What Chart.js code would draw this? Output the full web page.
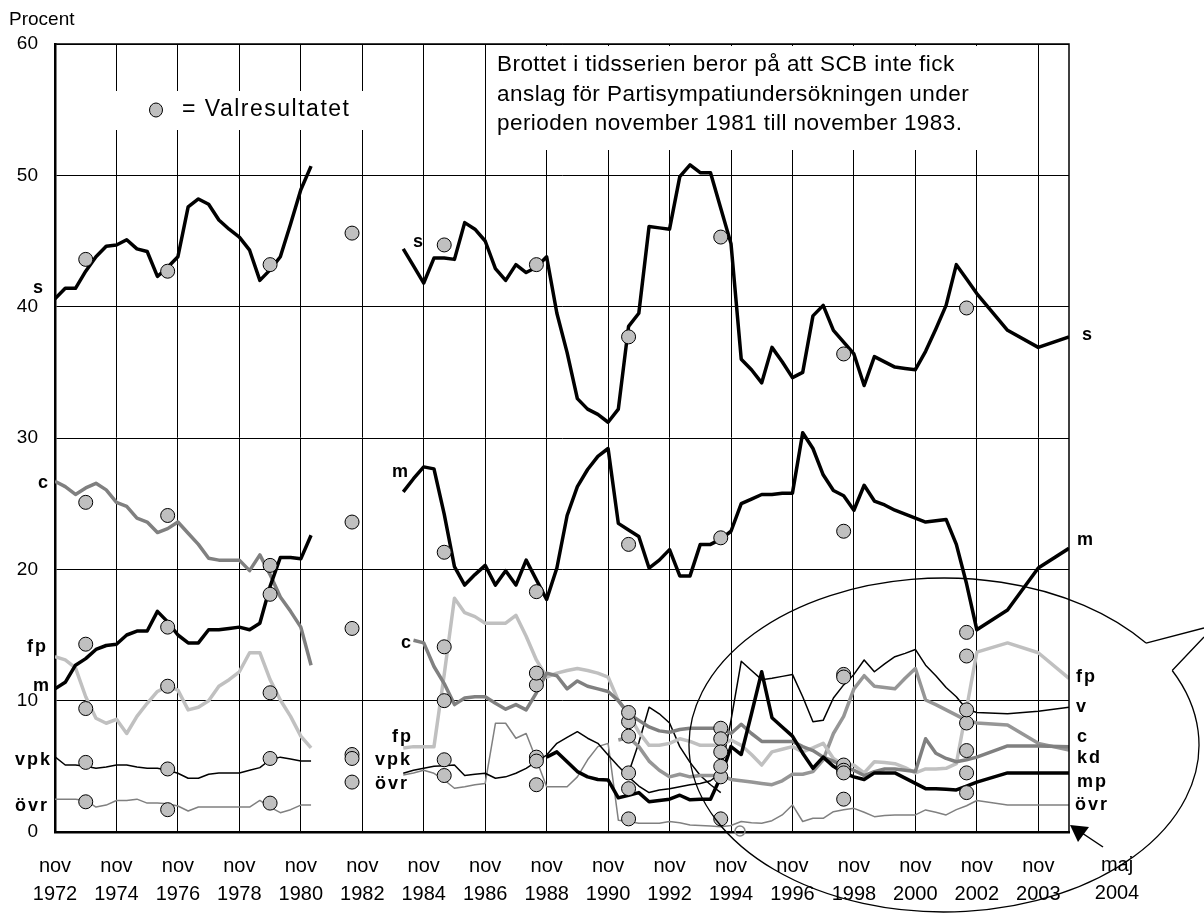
<!DOCTYPE html>
<html>
<head>
<meta charset="utf-8">
<script src="https://cdn.jsdelivr.net/npm/chart.js@4/dist/chart.umd.min.js"></script>
<style>
  body { margin: 0; background: #fff; }
  #wrap { position: relative; width: 1204px; height: 913px; }
</style>
</head>
<body>
<div id="wrap"><canvas id="chart" width="1204" height="913"></canvas></div>
<script>
// Partisympatier (SCB PSU), procent. One survey every 4 months up to nov 2002,
// then the axis stretches: one survey per grid step to maj 2004.
const surveyT = [];
for (let k = 0; k <= 90; k++) surveyT.push(k / 3);
surveyT.push(31, 32, 33);

// x tick labels (axis units = years from nov 1972 on the drawn scale)
const tickPos = [0, 2, 4, 6, 8, 10, 12, 14, 16, 18, 20, 22, 24, 26, 28, 30, 32];
const tickYears = ['1972', '1974', '1976', '1978', '1980', '1982', '1984', '1986', '1988',
  '1990', '1992', '1994', '1996', '1998', '2000', '2002', '2003'];

const N = null;
const gap = [N, N, N, N, N, N, N, N]; // nov 1981 - nov 1983, no survey

const sVals = [40.6, 41.4, 41.4, 42.7, 43.8, 44.6, 44.7, 45.1, 44.4, 44.2, 42.3, 43.0, 43.8, 47.6, 48.2, 47.8, 46.6, 45.9, 45.3, 44.3, 42.0, 42.8, 43.8, 46.3, 48.9, 50.7,
  ...gap,
  44.4, 43.1, 41.8, 43.7, 43.7, 43.6, 46.4, 45.9, 45.0, 42.9, 42.0, 43.2, 42.6, 43.0, 43.8, 39.5, 36.5, 33.0, 32.2, 31.8,
  31.2, 32.2, 38.5, 39.5, 46.1, 46.0, 45.9, 49.9, 50.8, 50.2, 50.2, 47.5, 44.8, 36.0, 35.2, 34.2, 36.9, 35.8, 34.6, 35.0,
  39.3, 40.1, 38.2, 37.3, 36.4, 34.0, 36.2, 35.8, 35.4, 35.3, 35.2, 36.6, 38.3, 40.1, 43.2, 42.1, 41.0, 38.2, 36.9, 37.7];

const mVals = [10.9, 11.4, 12.7, 13.2, 13.9, 14.2, 14.3, 15.0, 15.3, 15.3, 16.8, 16.0, 15.0, 14.4, 14.4, 15.4, 15.4, 15.5, 15.6, 15.4, 15.9, 18.7, 20.9, 20.9, 20.8, 22.6,
  ...gap,
  25.9, 26.9, 27.8, 27.65, 24.2, 20.2, 18.8, 19.6, 20.3, 18.8, 19.9, 18.8, 20.7, 19.2, 17.7, 20.1, 24.1, 26.3, 27.6, 28.6,
  29.2, 23.5, 23.0, 22.5, 20.1, 20.7, 21.5, 19.5, 19.5, 21.9, 21.9, 22.3, 22.9, 25.0, 25.35, 25.7, 25.7, 25.8, 25.8, 30.4,
  29.2, 27.2, 26.0, 25.6, 24.5, 26.4, 25.2, 24.9, 24.5, 24.2, 23.9, 23.6, 23.7, 23.8, 21.9, 18.9, 15.4, 16.9, 20.1, 21.6];

const cVals = [26.7, 26.3, 25.7, 26.2, 26.55, 26.05, 25.1, 24.8, 23.9, 23.6, 22.8, 23.1, 23.6, 22.75, 21.9, 20.85, 20.7, 20.7, 20.7, 19.9, 21.1, 19.6, 17.9, 16.8, 15.6, 12.7,
  ...gap,
  N, 14.6, 14.4, 12.6, 11.3, 9.7, 10.2, 10.3, 10.3, 9.8, 9.35, 9.7, 9.3, 10.6, 12.1, 11.9, 10.9, 11.5, 11.1, 10.9,
  10.7, 10.0, 9.0, 8.5, 8.0, 7.7, 7.6, 7.8, 7.9, 7.9, 7.9, 7.9, 7.5, 8.2, 7.5, 6.9, 6.9, 6.9, 6.9, 6.5,
  6.2, 5.7, 5.4, 5.0, 4.7, 4.3, 4.6, 4.8, 4.8, 4.7, 4.6, 7.1, 6.0, 5.6, 5.35, 5.5, 5.7, 6.55, 6.55, 6.5];

const fpVals = [13.35, 13.1, 12.5, 10.3, 8.66, 8.28, 8.58, 7.5, 8.8, 9.8, 10.7, 11.1, 10.8, 9.3, 9.5, 10.0, 11.1, 11.6, 12.2, 13.65, 13.65, 11.6, 10.05, 8.8, 7.3, 6.4,
  ...gap,
  6.4, 6.5, 6.5, 6.5, 12.0, 17.8, 16.7, 16.4, 15.9, 15.9, 15.9, 16.5, 14.9, 13.1, 11.8, 12.1, 12.3, 12.45, 12.3, 12.1,
  11.8, 10.0, 9.0, 7.6, 6.6, 6.6, 6.75, 7.1, 6.9, 6.6, 6.6, 6.6, 7.0, 6.6, 5.9, 5.1, 6.1, 6.3, 6.5, 6.1,
  6.4, 6.75, 5.6, 5.1, 5.1, 4.5, 5.35, 5.3, 5.2, 4.9, 4.5, 4.8, 4.8, 4.85, 5.2, 9.4, 13.7, 14.4, 13.65, 11.7];

const vVals = [5.73, 5.1, 5.1, 5.0, 4.85, 4.95, 5.1, 5.1, 4.95, 4.85, 4.85, 4.7, 4.47, 4.09, 4.09, 4.4, 4.5, 4.5, 4.5, 4.7, 4.9, 5.5, 5.7, 5.55, 5.4, 5.4,
  ...gap,
  4.47, 4.7, 4.85, 5.0, 5.05, 5.1, 4.3, 4.4, 4.47, 4.09, 4.2, 4.47, 4.85, 5.35, 5.86, 6.75, 7.2, 7.64, 7.14, 6.75,
  5.86, 5.0, 4.2, 3.5, 3.0, 3.2, 3.3, 3.45, 3.6, 3.7, 3.9, 4.5, 8.5, 13.0, 12.3, 11.6, 11.7, 11.85, 12.0, 10.3,
  8.4, 8.5, 10.2, 11.2, 12.0, 13.1, 12.2, 12.8, 13.35, 13.6, 13.9, 12.7, 11.9, 11.0, 10.3, 9.35, 9.1, 9.0, 9.2, 9.5];

const nydVals = [...Array(56).fill(N),
  4.5, 6.8, 9.5, 9.0, 8.3, 6.5, 5.3, 4.3, 3.6, 3.0,
  ...Array(28).fill(N)];

const kdVals = [...Array(55).fill(N),
  7.0, 7.2, 6.5, 5.4, 4.7, 4.2, 4.4, 4.2, 4.3, 4.3, 4.3, 4.0, 3.9, 3.8, 3.7,
  3.6, 3.9, 4.4, 4.4, 4.6, 5.5, 7.5, 8.8, 10.9, 11.9, 11.1, 11.0, 10.9, 11.7, 12.45,
  10.05, 9.7, 9.3, 8.9, 8.5, 8.3, 8.15, 6.75, 6.25];

const mpVals = [...Array(48).fill(N),
  5.7, 6.1, 5.35, 4.6, 4.2, 4.0, 3.96, 2.6, 2.8, 3.0, 2.3, 2.4, 2.5, 2.8, 2.45, 2.5,
  2.5, 4.2, 6.5, 5.9, 9.0, 12.2, 8.7, 8.0, 7.3, 6.0, 4.85, 5.7, 5.0, 4.5, 4.2, 4.0,
  4.5, 4.5, 4.5, 4.1, 3.7, 3.3, 3.3, 3.25, 3.2, 3.5, 3.8, 4.5, 4.5, 4.5];

const ovrVals = [2.5, 2.5, 2.5, 2.4, 1.9, 2.05, 2.4, 2.4, 2.5, 2.2, 2.2, 2.15, 1.98, 1.6, 1.9, 1.9, 1.9, 1.9, 1.9, 1.9, 2.4, 1.9, 1.47, 1.7, 2.05, 2.05,
  ...gap,
  4.34, 4.5, 4.7, 4.47, 3.96, 3.33, 3.45, 3.6, 3.7, 8.28, 8.28, 7.14, 7.5, 5.5, 3.45, 3.45, 3.45, 4.2, 5.5, 6.5,
  6.75, 0.9, 0.8, 0.66, 0.66, 0.66, 0.8, 0.7, 0.53, 0.5, 0.46, 0.4, 0.5, 0.8, 0.7, 0.66, 0.86, 1.3, 2.06, 0.8,
  1.04, 1.04, 1.55, 1.7, 1.8, 1.5, 1.17, 1.25, 1.3, 1.3, 1.3, 1.68, 1.5, 1.3, 1.7, 2.0, 2.4, 2.06, 2.06, 2.06];

// Valresultatet: 1973 1976 1979 1982 1985 1988 1991 1994 1998 2002
const electionT = [1, 11 / 3, 7, 29 / 3, 38 / 3, 47 / 3, 56 / 3, 65 / 3, 77 / 3, 89 / 3];
const elS   = [43.6, 42.7, 43.2, 45.6, 44.7, 43.2, 37.7, 45.3, 36.4, 39.9];
const elM   = [14.3, 15.6, 20.3, 23.6, 21.3, 18.3, 21.9, 22.4, 22.9, 15.2];
const elC   = [25.1, 24.1, 18.1, 15.5, 10.0, 11.2, 8.4, 7.9, 5.1, 6.2];
const elFp  = [9.4, 11.1, 10.6, 5.9, 14.1, 12.1, 9.1, 7.1, 4.7, 13.4];
const elV   = [5.3, 4.8, 5.6, 5.6, 5.5, 5.7, 4.5, 6.1, 12.0, 8.3];
const elKd  = [N, N, N, N, N, N, 7.3, 4.2, 11.8, 9.3];
const elMp  = [N, N, N, N, N, 5.4, 3.3, 5.0, 4.5, 4.5];
const elOvr = [2.3, 1.7, 2.2, 3.8, 4.3, 3.6, 1.0, 1.0, 2.5, 3.0];

const FONT = '"Liberation Sans", Arial, sans-serif';

function series(vals) {
  return surveyT.map((t, i) => ({ x: t, y: vals[i] }));
}
function lineSet(label, vals, color, width, order) {
  return {
    label, data: series(vals), borderColor: color, borderWidth: width,
    pointRadius: 0, tension: 0, spanGaps: false, fill: false, order,
    borderJoinStyle: 'round', borderCapStyle: 'butt'
  };
}

const electionPoints = [];
[elS, elM, elC, elFp, elV, elKd, elMp, elOvr].forEach(arr => {
  arr.forEach((v, i) => { if (v !== null) electionPoints.push({ x: electionT[i], y: v }); });
});

function spaced(ctx, px) {
  try { ctx.letterSpacing = px + 'px'; } catch (e) {}
}

// text, boxes and the callout bubble
const decor = {
  id: 'decor',
  beforeDatasetsDraw(chart) {
    const ctx = chart.ctx;
    ctx.save();
    ctx.fillStyle = '#fff';
    ctx.fillRect(110, 91, 260, 39);
    ctx.fillRect(493, 46, 504, 104);
    ctx.restore();
  },
  afterDraw(chart) {
    const ctx = chart.ctx;
    const a = chart.chartArea;
    ctx.save();
    // frame
    ctx.strokeStyle = '#000';
    ctx.lineWidth = 1.5;
    ctx.beginPath();
    ctx.moveTo(a.left, a.top); ctx.lineTo(a.right, a.top); ctx.lineTo(a.right, a.bottom);
    ctx.stroke();

    ctx.fillStyle = '#000';
    ctx.textBaseline = 'middle';
    ctx.textAlign = 'left';
    ctx.font = '19px ' + FONT;
    ctx.fillText('Procent', 9, 20);

    // legend
    ctx.beginPath();
    ctx.ellipse(156, 110, 6.5, 7, 0, 0, Math.PI * 2);
    ctx.fillStyle = '#c0c0c0'; ctx.fill();
    ctx.lineWidth = 1; ctx.strokeStyle = '#000'; ctx.stroke();
    ctx.fillStyle = '#000';
    ctx.font = '23px ' + FONT;
    spaced(ctx, 1.5);
    ctx.fillText('= Valresultatet', 182, 110);

    // note
    ctx.font = '22.5px ' + FONT;
    spaced(ctx, 0.45);
    ctx.textBaseline = 'alphabetic';
    ctx.fillText('Brottet i tidsserien beror på att SCB inte fick', 497, 71);
    ctx.fillText('anslag för Partisympatiundersökningen under', 497, 101);
    ctx.fillText('perioden november 1981 till november 1983.', 497, 130);

    // party labels
    ctx.font = 'bold 18px ' + FONT;
    ctx.textBaseline = 'middle';
    spaced(ctx, 2);
    const labels = [
      ['s', 33, 288], ['c', 38, 483], ['fp', 27, 647], ['m', 33, 686], ['vpk', 15, 760], ['övr', 15, 806],
      ['s', 413, 242], ['m', 392, 472], ['c', 401, 643], ['fp', 392, 737], ['vpk', 375, 760], ['övr', 375, 784],
      ['s', 1082, 335], ['m', 1077, 540], ['fp', 1076, 677], ['v', 1076, 707], ['c', 1077, 737],
      ['kd', 1077, 758], ['mp', 1077, 782], ['övr', 1075, 805]
    ];
    labels.forEach(([t, x, y]) => ctx.fillText(t, x, y));
    spaced(ctx, 0);

    // last tick label, outside the plot
    ctx.font = '20px ' + FONT;
    ctx.textAlign = 'center';
    ctx.fillText('maj', 1117, 865);
    ctx.fillText('2004', 1117, 893);

    // small hollow circle on the axis
    ctx.beginPath();
    ctx.arc(740, 831, 5, 0, Math.PI * 2);
    ctx.strokeStyle = '#888'; ctx.lineWidth = 1.5; ctx.stroke();

    // callout bubble
    const cx = 944, cy = 745, rx = 255, ry = 167;
    const a1 = -26.5 * Math.PI / 180, a2 = -37.6 * Math.PI / 180;
    ctx.strokeStyle = '#000'; ctx.lineWidth = 1.3;
    ctx.beginPath();
    ctx.ellipse(cx, cy, rx, ry, 0, a1, a2 + Math.PI * 2);
    ctx.stroke();
    ctx.beginPath();
    ctx.moveTo(cx + rx * Math.cos(a2), cy + ry * Math.sin(a2)); ctx.lineTo(1204, 628);
    ctx.moveTo(cx + rx * Math.cos(a1), cy + ry * Math.sin(a1)); ctx.lineTo(1204, 637);
    ctx.stroke();

    // arrow to the last survey
    ctx.lineWidth = 1.5;
    ctx.beginPath(); ctx.moveTo(1103, 847); ctx.lineTo(1082, 833); ctx.stroke();
    ctx.beginPath();
    ctx.moveTo(1070, 825); ctx.lineTo(1089, 827); ctx.lineTo(1078, 842); ctx.closePath();
    ctx.fillStyle = '#000'; ctx.fill();
    ctx.restore();
  }
};

new Chart(document.getElementById('chart'), {
  type: 'line',
  data: {
    datasets: [
      {
        label: 'Valresultatet', data: electionPoints, showLine: false, order: 0,
        pointRadius: 7, pointBackgroundColor: '#c0c0c0', pointBorderColor: '#000', pointBorderWidth: 1
      },
      lineSet('övr', ovrVals, '#808080', 1.5, 9),
      lineSet('nyd', nydVals, '#000', 1.5, 8),
      lineSet('v', vVals, '#000', 1.5, 7),
      lineSet('kd', kdVals, '#969696', 3.5, 6),
      lineSet('fp', fpVals, '#c0c0c0', 3.5, 5),
      lineSet('c', cVals, '#808080', 3.5, 4),
      lineSet('mp', mpVals, '#000', 3.5, 3),
      lineSet('m', mVals, '#000', 3.5, 2),
      lineSet('s', sVals, '#000', 3.5, 1)
    ]
  },
  options: {
    responsive: false,
    animation: false,
    layout: { padding: { top: 44, right: 135, left: 0, bottom: 0 } },
    plugins: { legend: { display: false }, tooltip: { enabled: false } },
    scales: {
      x: {
        type: 'linear', min: 0, max: 33,
        afterFit: s => { s.height = 81; },
        afterBuildTicks: s => { s.ticks = tickPos.map(v => ({ value: v })); },
        grid: { color: '#000', lineWidth: 1, drawTicks: false },
        border: { color: '#000', width: 2.5 },
        ticks: {
          autoSkip: false, maxRotation: 0, padding: 20, color: '#000',
          font: { family: FONT, size: 20, lineHeight: 1.4 },
          callback: v => { const i = tickPos.indexOf(v); return i < 0 ? '' : ['nov', tickYears[i]]; }
        }
      },
      y: {
        min: 0, max: 60,
        afterFit: s => { s.width = 55; },
        grid: { color: '#000', lineWidth: 1, drawTicks: false },
        border: { color: '#000', width: 2.5 },
        ticks: { stepSize: 10, padding: 17, color: '#000', font: { family: FONT, size: 19 } }
      }
    }
  },
  plugins: [decor]
});
</script>
</body>
</html>
